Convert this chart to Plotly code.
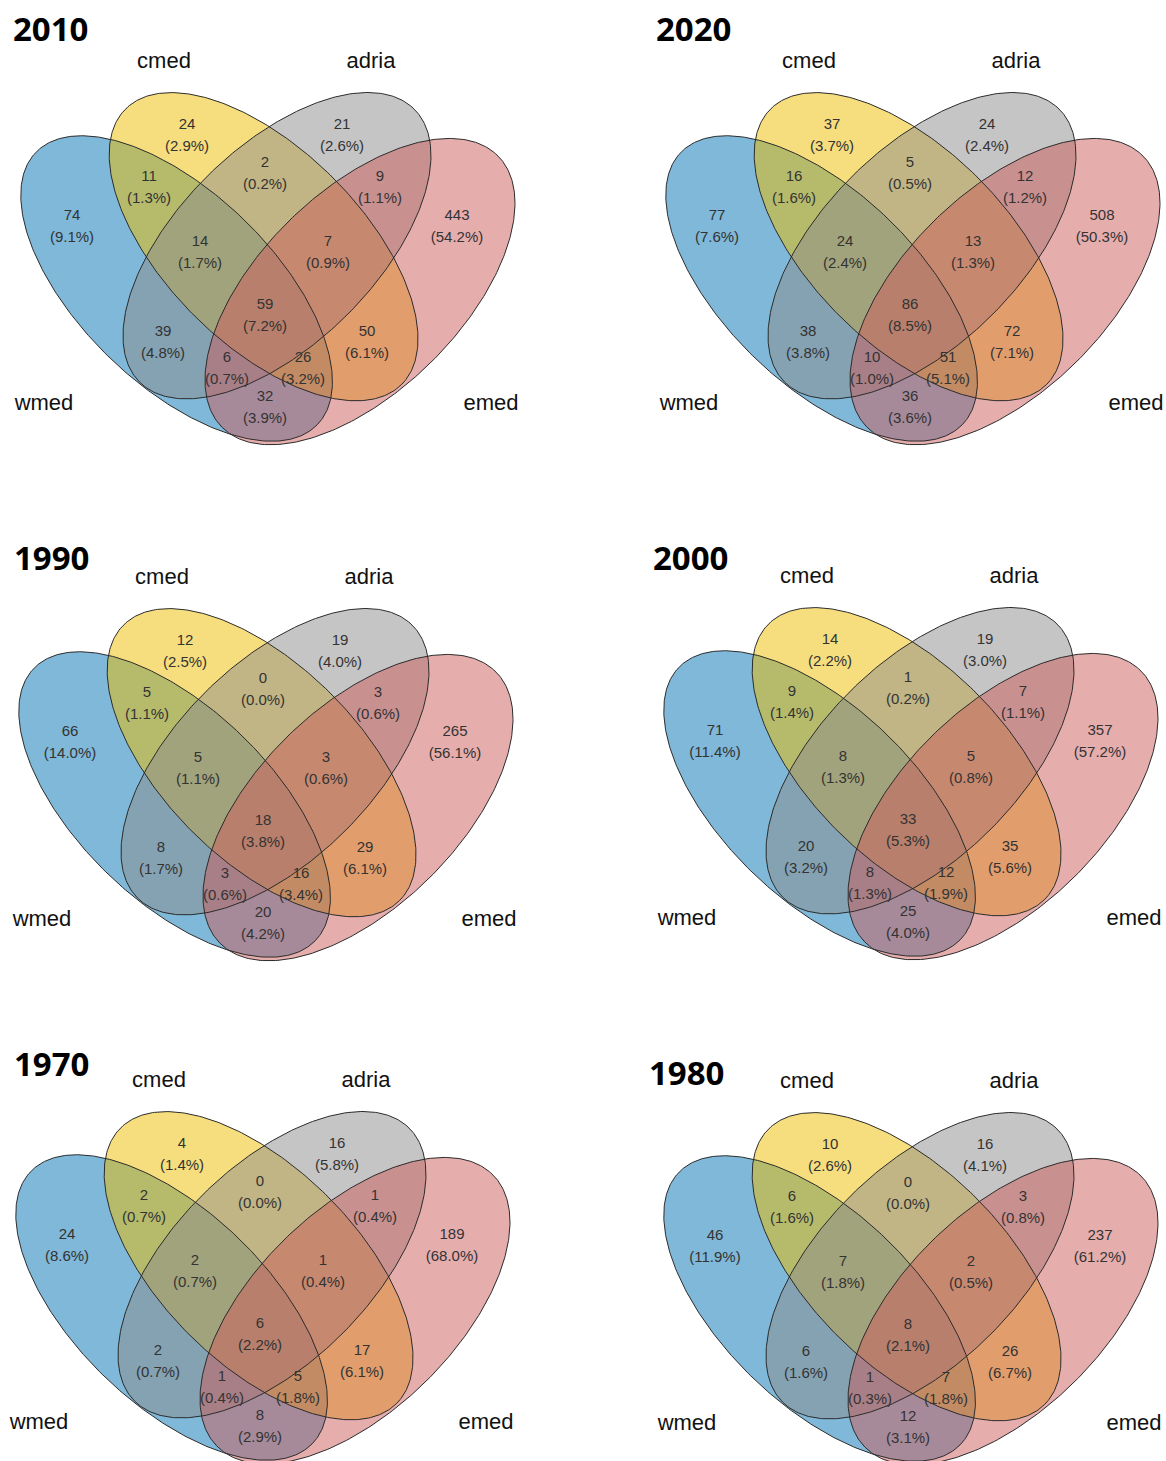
import numpy as np
import plotly.graph_objects as go

# ---------------- data ----------------
years = ["2010", "2020", "1990", "2000", "1970", "1980"]
set_names = ["wmed", "cmed", "adria", "emed"]
# region order: single sets, then overlaps (w=wmed, c=cmed, a=adria, e=emed)
region_keys = ["w", "c", "a", "e", "wc", "ca", "ae", "wca", "cae", "wcae", "wa", "ce", "wae", "wce", "we"]
counts_2010 = [74, 24, 21, 443, 11, 2, 9, 14, 7, 59, 39, 50, 6, 26, 32]
counts_2020 = [77, 37, 24, 508, 16, 5, 12, 24, 13, 86, 38, 72, 10, 51, 36]
counts_1990 = [66, 12, 19, 265, 5, 0, 3, 5, 3, 18, 8, 29, 3, 16, 20]
counts_2000 = [71, 14, 19, 357, 9, 1, 7, 8, 5, 33, 20, 35, 8, 12, 25]
counts_1970 = [24, 4, 16, 189, 2, 0, 1, 2, 1, 6, 2, 17, 1, 5, 8]
counts_1980 = [46, 10, 16, 237, 6, 0, 3, 7, 2, 8, 6, 26, 1, 7, 12]
counts = {"2010": counts_2010, "2020": counts_2020, "1990": counts_1990,
          "2000": counts_2000, "1970": counts_1970, "1980": counts_1980}

# ---------------- layout / styling ----------------
# ellipse geometry per set (centre x, centre y, semi-major, semi-minor, angle deg) in panel units
ellipses = {
    "wmed": (176.6, 288.5, 195.8, 96.3, 44.06),
    "cmed": (263.6, 246.7, 195.0, 97.8, 44.90),
    "adria": (277.0, 245.7, 193.6, 98.5, 135.25),
    "emed": (360.0, 291.6, 193.5, 100.2, 135.59),
}
fills = {"wmed": "rgba(0,114,178,0.5)", "cmed": "rgba(238,190,0,0.5)",
         "adria": "rgba(140,140,140,0.5)", "emed": "rgba(205,92,92,0.5)"}

offsets = {"2010": (0, 0), "2020": (645, 0), "1990": (-2, 516),
           "2000": (643, 515), "1970": (-5, 1019), "1980": (643, 1020)}
title_pos = {"2010": (11, 28), "2020": (654, 28), "1990": (12, 557),
             "2000": (651, 557), "1970": (12, 1063), "1980": (647, 1072)}
region_anchor = {"w": (72, 216), "c": (187, 125), "a": (342, 125), "e": (457, 216),
                 "wc": (149, 177), "ca": (265, 163), "ae": (380, 177),
                 "wca": (200, 242), "cae": (328, 242), "wcae": (265, 305),
                 "wa": (163, 332), "ce": (367, 332), "wae": (227, 358),
                 "wce": (303, 358), "we": (265, 397)}
set_label_anchor = {"wmed": (44, 404), "cmed": (164, 62), "adria": (371, 62), "emed": (491, 404)}

t = np.linspace(0, 2 * np.pi, 361)

fig = go.Figure()
for yr in years:
    ox, oy = offsets[yr]
    outlines = []
    for nm in set_names:
        cx, cy, a, b, ang = ellipses[nm]
        th = np.radians(ang)
        xs = cx + ox + a * np.cos(t) * np.cos(th) - b * np.sin(t) * np.sin(th)
        ys = cy + oy + a * np.cos(t) * np.sin(th) + b * np.sin(t) * np.cos(th)
        fig.add_trace(go.Scatter(x=xs, y=ys, mode="lines", fill="toself", fillcolor=fills[nm],
                                 line=dict(width=0), hoverinfo="skip", showlegend=False))
        outlines.append((xs, ys))
    for xs, ys in outlines:
        fig.add_trace(go.Scatter(x=xs, y=ys, mode="lines", line=dict(color="#2b2b2b", width=1),
                                 hoverinfo="skip", showlegend=False))
    vals = counts[yr]
    tot = sum(vals)
    tx, ty, tt = [], [], []
    for k, v in zip(region_keys, vals):
        ax_, ay_ = region_anchor[k]
        tx += [ax_ + ox, ax_ + ox]
        ty += [ay_ + oy, ay_ + oy + 22.5]
        tt += [str(v), "(%.1f%%)" % (100.0 * v / tot)]
    fig.add_trace(go.Scatter(x=tx, y=ty, text=tt, mode="text",
                             textfont=dict(family="Liberation Sans", size=15, color="#333333"),
                             hoverinfo="skip", showlegend=False))
    sx, sy, st = [], [], []
    for nm in set_names:
        lx, ly = set_label_anchor[nm]
        sx.append(lx + ox); sy.append(ly + oy); st.append(nm)
    fig.add_trace(go.Scatter(x=sx, y=sy, text=st, mode="text",
                             textfont=dict(family="Liberation Sans", size=22, color="#111111"),
                             hoverinfo="skip", showlegend=False))
    px_, py_ = title_pos[yr]
    fig.add_annotation(x=px_, y=py_, xref="x", yref="y", text="<b>%s</b>" % yr,
                       showarrow=False, xanchor="left", yanchor="middle",
                       font=dict(family="Open Sans", size=33, color="#000000"))

fig.update_layout(width=1166, height=1461, margin=dict(l=0, r=0, t=0, b=0),
                  plot_bgcolor="white", paper_bgcolor="white",
                  xaxis=dict(range=[0, 1166], visible=False, fixedrange=True),
                  yaxis=dict(range=[1461, 0], visible=False, fixedrange=True))
fig.write_html("out.html", config={"displayModeBar": False},
               post_script="document.body.style.margin='0';document.body.style.overflow='hidden';")
